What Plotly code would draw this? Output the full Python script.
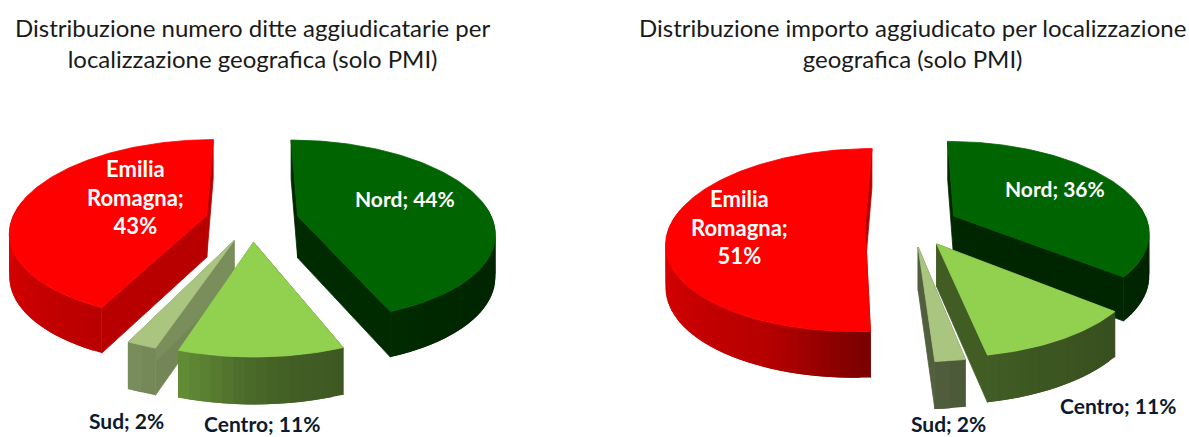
import numpy as np
import plotly.graph_objects as go

# --- data ---
categories = ["Nord", "Centro", "Sud", "Emilia Romagna"]
ditte_values = [44, 11, 2, 43]
importo_values = [36, 11, 2, 51]
chart_titles = [
    "Distribuzione numero ditte aggiudicatarie per<br>localizzazione geografica (solo PMI)",
    "Distribuzione importo aggiudicato per localizzazione<br>geografica (solo PMI)",
]
slice_colors = {
    "Nord": (0, 100, 0),
    "Centro": (146, 208, 80),
    "Sud": (170, 197, 128),
    "Emilia Romagna": (255, 0, 0),
}

# --- geometry of the fake-3D pies (pixels) ---
W, H = 1189, 437
RX, RY, DEPTH = 195.0, 89.0, 42.0
KX, KY = 0.168, 0.157
EXPLODE = 0.24
CENTERS = [(252.0, 220.0), (912.0, 225.0)]
SHADE_A = [0, 90, 130, 158, 170, 180, 198, 205, 270, 360]
SHADE_V = [0.40, 0.36, 0.38, 0.42, 0.45, 0.50, 0.68, 0.72, 0.88, 0.72]
DRAW_ORDER = ["Nord", "Emilia Romagna", "Sud", "Centro"]

fig = go.Figure()


def shade(rgb, angle):
    f = float(np.interp(angle, SHADE_A, SHADE_V))
    return "rgb(%d,%d,%d)" % tuple(round(c * f) for c in rgb)


def project(X, Y, c):
    X, Y = np.asarray(X, float), np.asarray(Y, float)
    s = 1 / (1 - KX * Y)
    sy = 1 / (1 - KY * Y)
    return c[0] + X * RX * s, c[1] + Y * RY * sy, DEPTH * (1 + 0.5 * (s - 1))


def poly(x, y, color, width=0.8):
    fig.add_trace(go.Scatter(
        x=list(x), y=list(y), mode="lines", fill="toself", fillcolor=color,
        line=dict(color=color, width=width), hoverinfo="skip", showlegend=False,
    ))


def plane(theta, r, mid):
    t, m = np.radians(theta), np.radians(mid)
    X = EXPLODE * np.sin(m) + r * np.sin(t)
    Y = -EXPLODE * np.cos(m) - r * np.cos(t)
    return X, Y


def draw_pie(values, center):
    start = 0.0
    spans = {}
    for cat, v in zip(categories, values):
        spans[cat] = (start, start + v * 3.6)
        start += v * 3.6
    for cat in DRAW_ORDER:
        a0, a1 = spans[cat]
        mid = (a0 + a1) / 2
        rgb = slice_colors[cat]
        # radial cut faces
        for a in (a0, a1):
            X, Y = plane(np.array([a, a]), np.array([0.0, 1.0]), mid)
            x, y, d = project(X, Y, center)
            poly([x[0], x[1], x[1], x[0], x[0]],
                 [y[0], y[1], y[1] + d[1], y[0] + d[0], y[0]], shade(rgb, a))
        # rim, in small overlapping strips that carry the shading
        lo, hi = max(a0, 80.0), min(a1, 280.0)
        if hi > lo:
            n = max(2, int((hi - lo) / 2.5))
            edges = np.linspace(lo, hi, n + 1)
            step = edges[1] - edges[0]
            for e0 in edges[:-1]:
                th = np.linspace(e0, min(e0 + 2 * step, hi), 5)
                X, Y = plane(th, 1.0, mid)
                x, y, d = project(X, Y, center)
                poly(np.r_[x, x[::-1], x[0]],
                     np.r_[y, (y + d)[::-1], y[0]],
                     shade(rgb, e0 + step / 2), width=0)
        # top face
        th = np.linspace(a0, a1, max(8, int(a1 - a0)))
        X, Y = plane(th, 1.0, mid)
        Xa, Ya = plane(np.array([a0]), 0.0, mid)
        x, y, _ = project(np.r_[Xa, X, Xa], np.r_[Ya, Y, Ya], center)
        poly(x, y, "rgb(%d,%d,%d)" % rgb)


draw_pie(ditte_values, CENTERS[0])
draw_pie(importo_values, CENTERS[1])

# --- text ---
FONT = "Lato"
TITLE_SIZE = 24
annots = [
    (CENTERS[0][0], 43, chart_titles[0], TITLE_SIZE, "#1a1a1a", False),
    (CENTERS[1][0], 43, chart_titles[1], TITLE_SIZE, "#1a1a1a", False),
    (135, 197, "Emilia<br>Romagna;<br>%d%%" % ditte_values[3], 22, "white", True),
    (405, 198, "Nord; %d%%" % ditte_values[0], 21, "white", True),
    (126, 420, "Sud; %d%%" % ditte_values[2], 21, "#0b1a2e", True),
    (262, 423, "Centro; %d%%" % ditte_values[1], 21, "#0b1a2e", True),
    (739, 227, "Emilia<br>Romagna;<br>%d%%" % importo_values[3], 22, "white", True),
    (1055, 188, "Nord; %d%%" % importo_values[0], 21, "white", True),
    (1118, 405, "Centro; %d%%" % importo_values[1], 21, "#0b1a2e", True),
    (948, 423, "Sud; %d%%" % importo_values[2], 21, "#0b1a2e", True),
]
for x, y, text, size, color, bold in annots:
    fig.add_annotation(
        x=x, y=y, text="<b>%s</b>" % text if bold else text, showarrow=False,
        xanchor="center", yanchor="middle", align="center",
        font=dict(family=FONT, size=size, color=color),
    )

fig.update_layout(
    width=W, height=H, margin=dict(l=0, r=0, t=0, b=0),
    paper_bgcolor="white", plot_bgcolor="white", showlegend=False,
    xaxis=dict(range=[0, W], visible=False, fixedrange=True),
    yaxis=dict(range=[H, 0], visible=False, fixedrange=True),
)
fig.write_html("out.html", config={"displayModeBar": False},
               post_script="document.body.style.margin='0';")
